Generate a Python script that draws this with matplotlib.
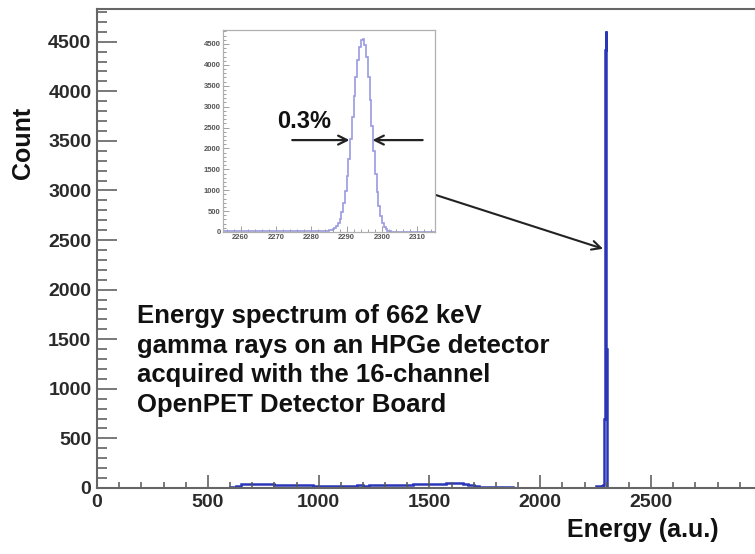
import numpy as np
import matplotlib
matplotlib.use("Agg")
import matplotlib.pyplot as plt
from matplotlib.ticker import MultipleLocator

plt.rcParams['font.family'] = ['Liberation Sans', 'DejaVu Sans']
plt.rcParams['font.weight'] = 'bold'

# Continuum part of the spectrum, 25-channel bins starting at 575
continuum_start = 575
continuum_width = 25
continuum_counts = [
    2, 8, 22, 36, 40, 44, 40, 37, 38, 34, 33, 31, 30, 28, 29, 26, 25,
    24, 25, 23, 22, 24, 23, 24, 26, 25, 27, 28, 27, 30, 29, 31, 33, 34,
    36, 37, 36, 40, 42, 44, 48, 52, 50, 44, 30, 20, 15, 12, 10, 8, 7,
    6, 5, 4, 3, 3, 2, 2, 2, 1, 1, 1, 1, 1, 1, 1, 1,
]

# Low side of the photopeak window, 1-channel bins from 2250 to 2283
pre_peak_start = 2250
pre_peak_counts = [
    18, 22, 15, 20, 25, 17, 21, 19, 23, 16, 20, 24, 18, 21, 17, 22, 19,
    25, 20, 18, 23, 21, 17, 24, 20, 22, 19, 26, 21, 24, 22, 25, 23,
]

# Photopeak, half-channel bins from 2283 to 2305
peak_start = 2283
peak_counts = [
    22, 24, 26, 30, 36, 45, 62, 90, 135, 210, 320, 480, 700, 980,
    1330, 1750, 2230, 2750, 3250, 3720, 4120, 4420, 4590, 4610, 4480,
    4180, 3720, 3150, 2530, 1930, 1400, 960, 620, 380, 220, 120, 62,
    30, 14, 6, 2, 0, 0, 0,
]

# High side of the photopeak window, 1-channel bins from 2305 to 2315
post_peak_start = 2305
post_peak_counts = [0, 0, 0, 0, 0, 0, 0, 0, 0, 0]

x_ticks_main = [0, 500, 1000, 1500, 2000, 2500]
y_ticks_main = [0, 500, 1000, 1500, 2000, 2500, 3000, 3500, 4000, 4500]
x_ticks_inset = [2260, 2270, 2280, 2290, 2300, 2310]
y_ticks_inset = [0, 500, 1000, 1500, 2000, 2500, 3000, 3500, 4000, 4500]

description = ("Energy spectrum of 662 keV\n"
               "gamma rays on an HPGe detector\n"
               "acquired with the 16-channel\n"
               "OpenPET Detector Board")
fwhm_label = "0.3%"

cont_edges = continuum_start + continuum_width * np.arange(len(continuum_counts))
pre_edges = pre_peak_start + np.arange(len(pre_peak_counts))
pk_edges = peak_start + 0.5 * np.arange(len(peak_counts))
post_edges = post_peak_start + np.arange(len(post_peak_counts) + 1)

window_counts = np.concatenate([pre_peak_counts, peak_counts, post_peak_counts])
window_edges = np.concatenate([pre_edges, pk_edges, post_edges])
all_counts = np.concatenate([continuum_counts, window_counts])
all_edges = np.concatenate([cont_edges, window_edges])

W, H = 755, 554
fig = plt.figure(figsize=(W / 100, H / 100), dpi=100)
fig.patch.set_facecolor('white')

# main axes (right edge runs slightly past the canvas)
ax = fig.add_axes([97 / W, 66 / H, 665 / W, 479 / H])
ax.stairs(all_counts, all_edges, color='#2a36b8', lw=1.8, baseline=None)
ax.set_xlim(0, 3000)
ax.set_ylim(0, 4830)
ax.set_xticks(x_ticks_main)
ax.set_yticks(y_ticks_main)
ax.xaxis.set_minor_locator(MultipleLocator(100))
ax.yaxis.set_minor_locator(MultipleLocator(100))
for s in ax.spines.values():
    s.set_color('#666666')
    s.set_linewidth(1.5)
ax.tick_params(axis='both', which='both', direction='in', colors='#555555',
               labelcolor='#2a2a2a', labelsize=14, width=1.1)
ax.tick_params(axis='y', which='major', length=14.4, pad=4)
ax.tick_params(axis='y', which='minor', length=7.5)
ax.tick_params(axis='x', which='major', length=9.5, pad=4)
ax.tick_params(axis='x', which='minor', length=4.5)
for lab in ax.get_xticklabels() + ax.get_yticklabels():
    lab.set_fontweight('bold')

ax.text(0.935, -0.088, "Energy (a.u.)", transform=ax.transAxes, ha='right',
        va='center', fontsize=18, fontweight='bold', color='#111111')
ax.text(-0.112, 0.795, "Count", transform=ax.transAxes, rotation=90,
        ha='center', va='top', fontsize=18, fontweight='bold', color='#111111')
ax.text(0.060, 0.384, description, transform=ax.transAxes, ha='left',
        va='top', fontsize=18.5, fontweight='bold', color='#111111',
        linespacing=1.3)

# pointer from the zoomed view to the photopeak
ax.annotate("", xy=(2283, 2412), xytext=(1525, 2957), xycoords='data',
            arrowprops=dict(arrowstyle='->', lw=1.5, color='#222222',
                            mutation_scale=16, shrinkA=0, shrinkB=0),
            annotation_clip=False)

# zoomed view of the photopeak
axi = fig.add_axes([223 / W, (H - 232) / H, 212 / W, 202 / H])
axi.stairs(window_counts, window_edges, color='#9a9ae2', lw=1.2, baseline=None)
axi.set_xlim(2255, 2315)
axi.set_ylim(0, 4835)
axi.set_xticks(x_ticks_inset)
axi.set_yticks(y_ticks_inset)
axi.xaxis.set_minor_locator(MultipleLocator(2))
axi.yaxis.set_minor_locator(MultipleLocator(100))
for s in axi.spines.values():
    s.set_color('#b0b0b0')
    s.set_linewidth(0.9)
axi.tick_params(axis='both', which='both', direction='in', colors='#a0a0a0',
                labelcolor='#555555', labelsize=5.5, width=0.7)
axi.tick_params(axis='both', which='major', length=4.3, pad=1.5)
axi.tick_params(axis='both', which='minor', length=2.2)
for lab in axi.get_xticklabels() + axi.get_yticklabels():
    lab.set_fontweight('bold')

axi.text(2270.4, 2633, fwhm_label, ha='left', va='center', fontsize=17,
         fontweight='bold', color='#111111')
axi.annotate("", xy=(2290.8, 2200), xytext=(2274.6, 2200),
             arrowprops=dict(arrowstyle='->', lw=1.6, color='#222222',
                             mutation_scale=16, shrinkA=0, shrinkB=0))
axi.annotate("", xy=(2297.3, 2200), xytext=(2311.5, 2200),
             arrowprops=dict(arrowstyle='->', lw=1.6, color='#222222',
                             mutation_scale=16, shrinkA=0, shrinkB=0))

fig.savefig("out.png", dpi=100)
